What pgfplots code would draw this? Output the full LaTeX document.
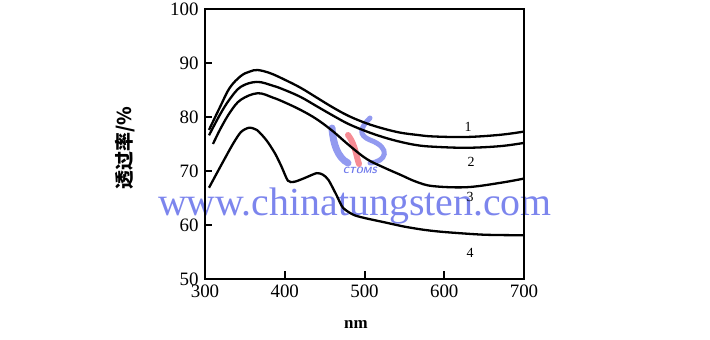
\documentclass[border=0pt]{standalone}
\usepackage{pgfplots}
\pgfplotsset{compat=1.18}
\usepackage{fontspec}
\setmainfont{Liberation Serif}
\newfontfamily\cjk{Noto Sans CJK SC}
\definecolor{wm}{RGB}{110,120,235}
\definecolor{wmred}{RGB}{245,120,130}
\begin{document}
\begin{tikzpicture}
\useasboundingbox (0bp,0bp) rectangle (710bp,340bp);
\node[anchor=base west,inner sep=0,text=wm,opacity=0.9,font=\fontsize{40}{44}\selectfont] at (158bp,124bp) {www.chinatungsten.com};
\draw[wm, line width=7bp, line cap=round, opacity=0.75] (332bp,212bp) .. controls (333bp,196bp) and (338bp,182bp) .. (348bp,177bp);
\draw[wmred, line width=6bp, line cap=round, opacity=0.85] (348bp,205bp) .. controls (355bp,196bp) and (356bp,185bp) .. (359bp,176bp);
\draw[wm, line width=5bp, line cap=round, opacity=0.75] (370bp,222bp) .. controls (360bp,212bp) and (358bp,205bp) .. (370bp,200bp) .. controls (392bp,192bp) and (386bp,178bp) .. (370bp,177bp);
\node[text=wm,font=\sffamily\bfseries\itshape\fontsize{9}{10}\selectfont,inner sep=0] at (360bp,170bp) {CTOMS};
\begin{axis}[
  at={(205bp,61bp)}, anchor=south west,
  scale only axis, width=319bp, height=270bp,
  xmin=300, xmax=700, ymin=50, ymax=100,
  xtick={300,400,500,600,700},
  xticklabels={300,400,500,600,\raisebox{-5bp}{700}},
  ytick={50,60,70,80,90,100},
  tick pos=left,
  tick align=inside,
  major tick length=7bp,
  tick style={black, line width=1.8bp},
  axis line style={line width=1.6bp},
  /pgf/number format/assume math mode=true,
  ticklabel style={font=\fontsize{19}{22}\selectfont},
  xticklabel style={yshift=-2bp},
  yticklabel style={xshift=-3bp},
  clip=false,
]
\addplot[black, line width=2.3bp, smooth, tension=0.6] coordinates {
(305,77.6) (319,81.9) (331,85.4) (345,87.6) (356,88.4) (366,88.7) (382,88.1) (400,86.9) (420,85.4) (440,83.6) (460,81.8) (480,80.2) (503,78.8) (525,77.8) (545,77.1) (565,76.7) (586,76.4) (628,76.3) (670,76.7) (700,77.3)};
\addplot[black, line width=2.3bp, smooth, tension=0.6] coordinates {
(305,76.6) (319,80.5) (331,83.3) (345,85.6) (365,86.5) (385,85.8) (400,85.0) (420,83.7) (440,82.0) (460,80.3) (480,78.7) (503,77.3) (525,76.2) (545,75.4) (565,74.8) (586,74.5) (628,74.3) (670,74.6) (700,75.2)};
\addplot[black, line width=2.3bp, smooth, tension=0.6] coordinates {
(310,75.0) (320,78.0) (332,81.0) (345,83.2) (366,84.4) (385,83.6) (400,82.7) (420,81.3) (440,79.6) (460,77.4) (482,74.6) (503,72.2) (525,70.6) (545,69.3) (565,68.0) (586,67.2) (628,67.0) (670,67.8) (700,68.6)};
\addplot[black, line width=2.3bp, smooth, tension=0.45] coordinates {
(305,66.9) (320,71.0) (335,75.0) (345,77.2) (355,78.0) (365,77.6) (377,75.7) (388,73.2) (396,70.8) (404,68.2) (412,68.0) (425,68.7) (440,69.6) (448,69.3) (455,68.3) (465,65.5) (473,63.2) (486,61.9) (500,61.3) (525,60.5) (550,59.7) (575,59.1) (600,58.7) (650,58.2) (700,58.1)};
% tick marks drawn as short data segments
\addplot[black, line width=2bp, forget plot] coordinates {(400,50) (400,51.4)};
\addplot[black, line width=2bp, forget plot] coordinates {(500,50) (500,51.4)};
\addplot[black, line width=2bp, forget plot] coordinates {(600,50) (600,51.4)};
\addplot[black, line width=2bp, forget plot] coordinates {(300,60) (309,60)};
\addplot[black, line width=2bp, forget plot] coordinates {(300,70) (309,70)};
\addplot[black, line width=2bp, forget plot] coordinates {(300,80) (309,80)};
\addplot[black, line width=2bp, forget plot] coordinates {(300,90) (309,90)};
\end{axis}
\node[font=\fontsize{14}{16}\selectfont] at (468bp,213bp) {1};
\node[font=\fontsize{14}{16}\selectfont] at (471bp,178bp) {2};
\node[font=\fontsize{14}{16}\selectfont] at (470bp,143bp) {3};
\node[font=\fontsize{14}{16}\selectfont] at (470bp,87bp) {4};
\node[rotate=90,font=\cjk\bfseries\fontsize{19}{22}\selectfont] at (125bp,192bp) {透过率/\%};
\node[font=\bfseries\fontsize{17}{20}\selectfont] at (356bp,15bp) {nm};
\end{tikzpicture}
\end{document}
